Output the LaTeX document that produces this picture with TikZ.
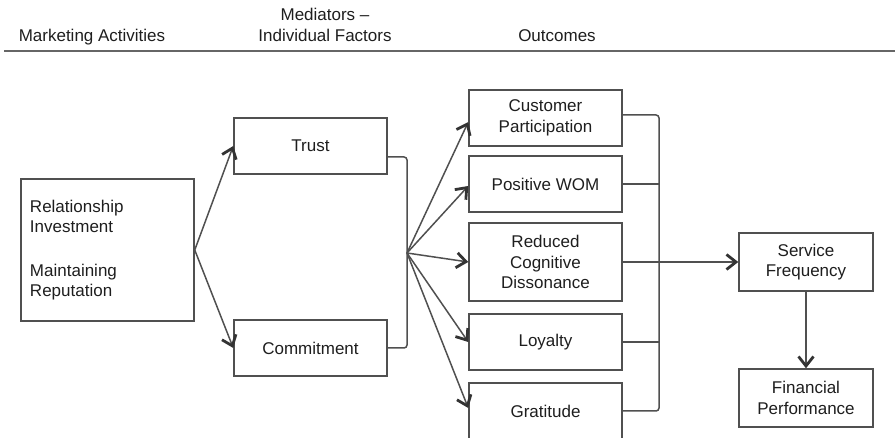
\documentclass[tikz,border=0pt]{standalone}
\usepackage{fontspec}
\setmainfont{Liberation Sans}
\usetikzlibrary{arrows.meta}
\definecolor{inkgray}{HTML}{1E1E1E}
\definecolor{linegray}{HTML}{505050}
\definecolor{tipgray}{HTML}{333333}
\definecolor{rulegray}{HTML}{666666}
\begin{document}
\begin{tikzpicture}[x=1pt, y=-1pt,
  every node/.style={text=inkgray, font=\fontsize{17}{20.5}\selectfont},
  box/.style={draw=linegray, line width=1.5pt, inner sep=0pt, align=center, minimum width=153pt},
  conn/.style={draw=linegray, line width=1.5pt},
  arr/.style={-{Straight Barb[length=9.5pt, width=15pt, line width=2.8pt, color=tipgray]}},
  head/.style={anchor=base, align=center}]
\useasboundingbox (0,0) rectangle (895,438);

% column headings and rule
\node[head] (h1) at (92,42) {Marketing Activities};
\node[head] (h2a) at (325,21) {Mediators --};
\node[head] (h2b) at (325,42) {Individual Factors};
\node[head] (h3) at (557,42) {Outcomes};
\draw[draw=rulegray, line width=2pt] (4,51) -- (895,51);

% marketing activities
\node[box, minimum width=173pt, minimum height=142pt, text width=155pt, align=left]
  (act) at (107.5,250) {Relationship\\Investment\\[23pt]Maintaining\\Reputation};

% mediators
\node[box, minimum height=56pt] (trust) at (310.5,146) {Trust};
\node[box, minimum height=56pt] (commit) at (310.5,348) {Commitment};

% outcomes
\node[box, minimum height=56pt] (cp) at (545.5,118) {Customer\\Participation};
\node[box, minimum height=56pt] (wom) at (545.5,184) {Positive WOM};
\node[box, minimum height=78pt] (rcd) at (545.5,262) {Reduced\\Cognitive\\Dissonance};
\node[box, minimum height=56pt] (loy) at (545.5,342) {Loyalty};
\node[box, minimum height=56pt] (grat) at (545.5,411) {Gratitude};

% performance
\node[box, minimum width=134pt, minimum height=58pt] (sf) at (806,262) {Service\\Frequency};
\node[box, minimum width=134pt, minimum height=58pt] (fp) at (806,398) {Financial\\Performance};

% junctions
\coordinate (mj) at (407,253);
\coordinate (oj) at (659,262);

% activities to mediators
\draw[conn, arr] (act.east) -- (trust.west);
\draw[conn, arr] (act.east) -- (commit.west);

% mediators bracket and fan to outcomes
\draw[conn, rounded corners=3pt] ([yshift=-11pt]trust.east) -| (mj) |- (commit.east);
\draw[conn, arr] (mj) -- ([yshift=-4pt]cp.west);
\draw[conn, arr] (mj) -- ([yshift=-2pt]wom.west);
\draw[conn, arr] (mj) -- (rcd.west);
\draw[conn, arr] (mj) -- (loy.west);
\draw[conn, arr] (mj) -- ([yshift=3pt]grat.west);

% outcomes bracket to service frequency
\draw[conn, rounded corners=3pt] ([yshift=3pt]cp.east) -| (oj) |- (grat.east);
\draw[conn] (wom.east) -- (wom.east -| oj);
\draw[conn] (loy.east) -- (loy.east -| oj);
\draw[conn, arr] (rcd.east) -- (sf.west);
\draw[conn, arr] (sf.south) -- (fp.north);
\end{tikzpicture}
\end{document}
